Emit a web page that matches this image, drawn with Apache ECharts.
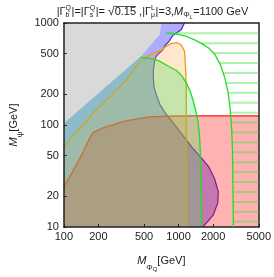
<!DOCTYPE html>
<html><head><meta charset="utf-8">
<script src="https://cdn.jsdelivr.net/npm/echarts@6/dist/echarts.min.js"></script>
<style>html,body{margin:0;padding:0;background:#fff}#c{width:274px;height:277px}</style>
</head><body><div id="c"></div>
<script>
// ---- data (GeV) ----
const xTicks = [100, 200, 500, 1000, 2000, 5000];
const yTicks = [10, 20, 50, 100, 200, 500, 1000];
const grayEdge = [[100,1000],[100,104.3],[473,474.5],[688,776.2],[707,1000]];
const redEdge = [[100,24.8],[123.9,37.8],[148.2,55.3],[167.9,74.4],[180.3,84.3],[219.5,93.9],[331,108.8],[448.5,115.7],[565.6,120.2],[808,122.2],[1380,123],[5000,123]];
const greenEdge = [[456.4,462.6],[565.6,450],[676,425],[853,366.6],[966,340.4],[1076,299.7],[1177,253.3],[1263,213.9],[1333,176.6],[1380,152.6],[1432,128.6],[1484,104.1],[1525,75.8],[1552,49.7],[1580,23.7],[1594,10]];
const orangeEdge = [[100,60.2],[123.9,82.7],[153.6,106.5],[186.9,137.3],[231.5,173.2],[292.1,223.2],[361.9,287.5],[410,355.2],[473,429.6],[565.6,487.5],[641,519.5],[701,536.3],[766,583.4],[853,628.3],[966,641.6],[1056,608.7],[1125,530.7],[1146,394.8],[1166,242.6],[1170,10]];
const blueEdge = [[1125,1000],[1056,862.8],[966,801],[884,748.7],[823,655.4],[766,606.2],[726.3,542],[676,503.2],[641,477.2],[618.4,427],[604.2,355.2],[602.1,287.5],[612.9,232.8],[641,196.3],[688,158.9],[752.7,134.4],[823,118.4],[916.4,102.1],[1095.6,78.4],[1309,60.2],[1552,48.8],[1839,38.7],[2065,29.4],[2218,22.3],[2198,17.3],[2011,13.2],[1839,11.7],[1623,10]];
const hatchEdge = [[780.3,801],[966,776.2],[1155,743.9],[1380,683.9],[1594,628.3],[1839,565.2],[2084,487.5],[2320,386.6],[2536,287.5],[2700,209.5],[2817,143],[2900,93.7],[2952,55.2],[2979,23.7],[3006,10]];
const hatchLevels = [792.6,633.6,506.6,404.9,323.7,258.8,206.9,165.4,132.2,105.7,84.5,67.5,54.0,43.1,34.5,27.6,22.0,17.6,14.1,11.3];

const FONT = 'Liberation Sans';
const X0 = 100, X1 = 5000, Y0 = 10, Y1 = 1000;

function polySeries(pts, fill, z) {
  return {type:'custom', coordinateSystem:'cartesian2d', clip:true, silent:true, z:z, data:[[X0,Y0]],
    renderItem:(p, api) => ({type:'polygon', shape:{points: pts.map(q => api.coord(q))}, style:{fill:fill, stroke:null}})};
}
function lineSeries(pts, stroke, lw, z) {
  return {type:'custom', coordinateSystem:'cartesian2d', clip:true, silent:true, z:z, data:[[X0,Y0]],
    renderItem:(p, api) => ({type:'polyline', shape:{points: pts.map(q => api.coord(q))}, style:{stroke:stroke, lineWidth:lw, fill:null}})};
}
function curveXAt(edge, y) {
  const ly = Math.log10(y);
  for (let i = 0; i < edge.length - 1; i++) {
    const a = Math.log10(edge[i][1]), b = Math.log10(edge[i+1][1]);
    if ((ly <= a && ly >= b) || (ly >= a && ly <= b)) {
      const t = (a === b) ? 0 : (ly - a) / (b - a);
      const xa = Math.log10(edge[i][0]), xb = Math.log10(edge[i+1][0]);
      return Math.pow(10, xa + t * (xb - xa));
    }
  }
  return edge[0][0];
}
const hatchSeries = {type:'custom', coordinateSystem:'cartesian2d', clip:true, silent:true, z:20, data:[[X0,Y0]],
  renderItem:(p, api) => ({type:'group', children: hatchLevels.map(lv => {
    const a = api.coord([curveXAt(hatchEdge, lv), lv]), b = api.coord([X1, lv]);
    return {type:'line', shape:{x1:a[0], y1:a[1], x2:b[0], y2:b[1]}, style:{stroke:'rgba(60,225,60,0.42)', lineWidth:2}};
  })})};

// ---- title built from measured text pieces ----
const mctx = document.createElement('canvas').getContext('2d');
function tw(t, size, italic) { mctx.font = (italic ? 'italic ' : '') + size + 'px "' + FONT + '"'; return mctx.measureText(t).width; }
const titleParts = [
  {t:'|Γ'}, {sup:'Q', sub:'b'}, {t:'|=|Γ'}, {sup:'Q', sub:'s'}, {t:'|= '}, {t:'√', size:12}, {t:'0.15', over:true},
  {t:' ,|Γ'}, {sup:'L', sub:'μ'}, {t:'|=3,'}, {t:'M', it:true}, {sub2:'Φ'}, {ss:'L'}, {t:'=1100 GeV'}
];
function buildTitle(cx, cy) {
  const els = []; const items = [];
  let x = 0;
  titleParts.forEach(p => {
    if (p.t !== undefined) {
      const s = p.size || 11; const w = tw(p.t, s, p.it);
      items.push({x, y:cy, text:p.t, size:s, it:p.it});
      if (p.over) items.push({line:true, x1:x, x2:x + w, y:cy - 5.5});
      x += w;
    } else if (p.sup !== undefined) {
      const w1 = tw(p.sup, 7), w2 = tw(p.sub, 7);
      items.push({x, y:cy - 3.5, text:p.sup, size:7});
      items.push({x, y:cy + 3.5, text:p.sub, size:7});
      x += Math.max(w1, w2) + 0.5;
    } else if (p.sub2 !== undefined) {
      items.push({x, y:cy + 3, text:p.sub2, size:8}); x += tw(p.sub2, 8);
    } else if (p.ss !== undefined) {
      items.push({x, y:cy + 5, text:p.ss, size:5.5}); x += tw(p.ss, 5.5) + 0.5;
    }
  });
  const x0 = cx - x / 2;
  items.forEach(it => {
    if (it.line) els.push({type:'line', shape:{x1:x0 + it.x1, y1:it.y, x2:x0 + it.x2, y2:it.y}, style:{stroke:'#222', lineWidth:0.8}, z:100});
    else els.push({type:'text', x:x0 + it.x, y:it.y, z:100, style:{text:it.text, fontSize:it.size, fontFamily:FONT, fontStyle:it.it ? 'italic' : 'normal', fill:'#222', align:'left', verticalAlign:'middle'}});
  });
  return els;
}

const chart = echarts.init(document.getElementById('c'), null, {renderer:'canvas'});
const frame = {show:true, onZero:false, lineStyle:{color:'#222', width:1.5}};
const subStyles = {
  it:{fontStyle:'italic', fontSize:11, fontFamily:FONT, color:'#222'},
  sub:{fontSize:8, fontFamily:FONT, color:'#222', verticalAlign:'bottom', lineHeight:20},
  ss:{fontSize:6, fontFamily:FONT, color:'#222', verticalAlign:'bottom', lineHeight:22},
  n:{fontSize:11, fontFamily:FONT, color:'#222'}
};
const fmt = v => String(Math.round(v));
chart.setOption({
  animation:false,
  grid:{left:43, top:23, right:12, bottom:36},
  xAxis:[{type:'log', logBase:10, min:X0, max:X1, z:10,
    axisLine:frame, splitLine:{show:false},
    axisTick:{show:true, inside:true, length:3, customValues:xTicks, lineStyle:{color:'#222'}},
    axisLabel:{customValues:xTicks, formatter:fmt, fontSize:11, fontFamily:FONT, color:'#222', margin:4},
    name:'{it|M}{sub|Φ}{ss|Q}{n|[GeV]}', nameLocation:'middle', nameGap:23,
    nameTextStyle:{rich:subStyles}},
   {type:'log', logBase:10, min:X0, max:X1, position:'top', z:10, axisLine:frame, axisTick:{show:false}, axisLabel:{show:false}, splitLine:{show:false}}],
  yAxis:[{type:'log', logBase:10, min:Y0, max:Y1, z:10,
    axisLine:frame, splitLine:{show:false},
    axisTick:{show:true, inside:true, length:3, customValues:yTicks, lineStyle:{color:'#222'}},
    axisLabel:{customValues:yTicks, formatter:fmt, fontSize:11, fontFamily:FONT, color:'#222', margin:5},
    name:'{it|M}{sub|ψ}{n|[GeV]}', nameLocation:'middle', nameGap:32, nameRotate:90,
    nameTextStyle:{rich:subStyles}},
   {type:'log', logBase:10, min:Y0, max:Y1, position:'right', z:10, axisLine:frame, axisTick:{show:false}, axisLabel:{show:false}, splitLine:{show:false}}],
  graphic:[{type:'group', children: buildTitle(152.5, 12)}],
  series:[
    polySeries([[X0,Y1]].concat(blueEdge, [[X0,Y0]]), 'rgba(20,20,245,0.35)', 1),
    lineSeries(blueEdge, '#4a28d0', 1.2, 2),
    polySeries(redEdge.concat([[X1,Y0],[X0,Y0]]), 'rgba(255,0,0,0.3)', 3),
    lineSeries(redEdge, '#ff1a1a', 1.3, 4),
    polySeries(orangeEdge.concat([[X0,Y0]]), 'rgba(250,165,70,0.27)', 5),
    lineSeries(orangeEdge, '#f09a10', 1.3, 6),
    polySeries([[X0,greenEdge[0][1]]].concat(greenEdge, [[X0,Y0]]), 'rgba(72,222,90,0.3)', 7),
    lineSeries(greenEdge, '#22dd22', 1.3, 8),
    polySeries(grayEdge.concat([[X0,Y1]]), '#d9d9d9', 9),
    hatchSeries,
    lineSeries(hatchEdge, '#22dd22', 1.3, 21)
  ]
});
</script></body></html>
